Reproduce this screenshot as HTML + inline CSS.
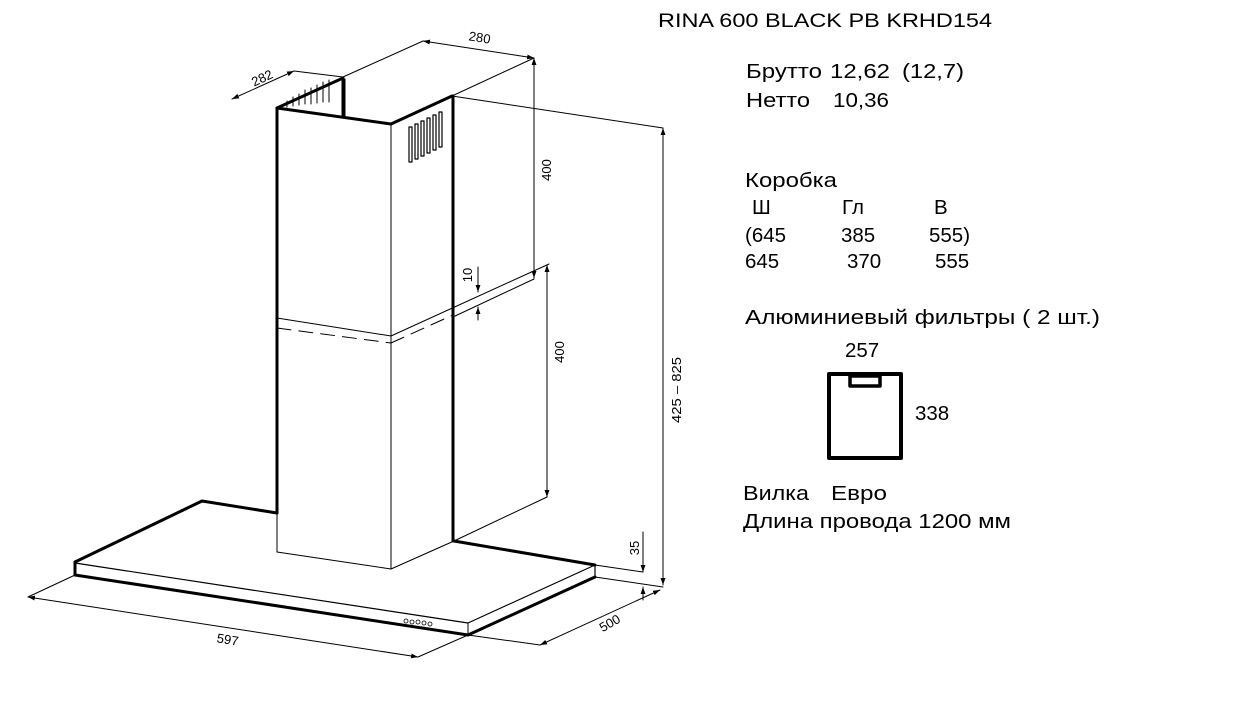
<!DOCTYPE html>
<html><head><meta charset="utf-8"><style>
html,body{margin:0;padding:0;background:#fff;}
svg{display:block;}
text{font-family:"Liberation Sans",Arial,sans-serif;fill:#000;}
.t{font-size:20.5px;}
.d{font-size:13px;}
</style></head><body>
<svg width="1257" height="706" viewBox="0 0 1257 706" xmlns="http://www.w3.org/2000/svg">
<defs>
<marker id="a" viewBox="0 0 10 10" refX="10" refY="5" markerWidth="7" markerHeight="7" orient="auto-start-reverse"><path d="M0,1.5 L10,5 L0,8.5 Z" fill="#000"/></marker>
</defs>
<g stroke="#000" fill="none" stroke-linecap="round" stroke-linejoin="round">
<path d="M277,108 L343,78 L343,117" stroke-width="3"/>
<path d="M277,108 L391,124 L452,96" stroke-width="3"/>
<line x1="345" y1="79" x2="345" y2="117" stroke-width="1"/>
<g stroke-width="1">
<path d="M287,107 v-6 M293,106 v-9 M299,105 v-11 M305,104 v-14 M311,104 v-16 M317,103 v-18 M323,102 v-20 M329,102 v-22"/>
</g>
<g stroke-width="1.2">
<rect x="409" y="127" width="3" height="35"/><rect x="415" y="124" width="3" height="35"/><rect x="421" y="121" width="3" height="35"/><rect x="427" y="118" width="3" height="35"/><rect x="433" y="115" width="3" height="35"/><rect x="439" y="112" width="3" height="35"/>
</g>
<line x1="277" y1="108" x2="277" y2="513" stroke-width="3"/>
<line x1="277" y1="513" x2="277" y2="552" stroke-width="1"/>
<line x1="391" y1="124" x2="391" y2="569" stroke-width="1"/>
<line x1="453" y1="96" x2="453" y2="541" stroke-width="3"/>
<path d="M277,552 L391,569 L454,541" stroke-width="1"/>
<line x1="277" y1="318" x2="391" y2="336" stroke-width="1"/>
<line x1="277" y1="328" x2="391" y2="343" stroke-width="1" stroke-dasharray="14,8"/>
<line x1="391" y1="343" x2="453" y2="315" stroke-width="1" stroke-dasharray="14,8"/>
<line x1="391" y1="336" x2="549" y2="264" stroke-width="1"/>
<line x1="453" y1="317" x2="534" y2="279" stroke-width="1"/>
<path d="M277,513 L202,501 L75,562" stroke-width="3"/>
<path d="M454,541 L595,565" stroke-width="3"/>
<path d="M75,563 L468,623 L595,565 L595,577" stroke-width="1.2"/>
<line x1="75" y1="562" x2="75" y2="575" stroke-width="3"/>
<path d="M75,575 L468,635 L595,577" stroke-width="3"/>
<line x1="468" y1="623" x2="468" y2="635" stroke-width="1"/>
<g stroke-width="0.8"><circle cx="406" cy="621" r="2"/><circle cx="412" cy="622" r="2"/><circle cx="418" cy="622" r="2"/><circle cx="424" cy="623" r="2"/><circle cx="430" cy="624" r="2"/></g>
<g stroke-width="1">
<line x1="294" y1="71" x2="343" y2="77"/>
<line x1="232" y1="99" x2="294" y2="71" marker-start="url(#a)" marker-end="url(#a)"/>
<line x1="423" y1="41" x2="343" y2="77"/>
<line x1="534" y1="58" x2="452" y2="96"/>
<line x1="423" y1="41" x2="534" y2="58" marker-start="url(#a)" marker-end="url(#a)"/>
<line x1="534" y1="58" x2="534" y2="278" marker-start="url(#a)" marker-end="url(#a)"/>
<line x1="452" y1="96" x2="663" y2="128"/>
<line x1="663" y1="128" x2="663" y2="585" marker-start="url(#a)" marker-end="url(#a)"/>
<line x1="478" y1="267" x2="478" y2="292" marker-end="url(#a)"/>
<line x1="478" y1="320" x2="478" y2="307" marker-end="url(#a)"/>
<line x1="547" y1="265" x2="547" y2="497" marker-start="url(#a)" marker-end="url(#a)"/>
<line x1="547" y1="497" x2="454" y2="541"/>
<line x1="643" y1="532" x2="643" y2="572" marker-end="url(#a)"/>
<line x1="643" y1="600" x2="643" y2="587" marker-end="url(#a)"/>
<line x1="595" y1="565" x2="643" y2="572"/>
<line x1="595" y1="577" x2="663" y2="587"/>
<line x1="468" y1="635" x2="540" y2="645"/>
<line x1="660" y1="590" x2="540" y2="645" marker-start="url(#a)" marker-end="url(#a)"/>
<line x1="75" y1="575" x2="28" y2="597"/>
<line x1="468" y1="635" x2="418" y2="657"/>
<line x1="28" y1="597" x2="418" y2="657" marker-start="url(#a)" marker-end="url(#a)"/>
</g>
<rect x="829" y="374" width="72" height="84" stroke-width="4"/>
<rect x="850" y="376" width="30" height="10" stroke-width="3.5"/>
</g>
<text class="d" transform="translate(479,42) rotate(9)" text-anchor="middle">280</text>
<text class="d" transform="translate(264,82) rotate(-25)" text-anchor="middle">282</text>
<text class="d" transform="translate(551,170) rotate(-90)" text-anchor="middle">400</text>
<text class="d" transform="translate(472,275) rotate(-90)" text-anchor="middle">10</text>
<text class="d" transform="translate(564,352) rotate(-90)" text-anchor="middle">400</text>
<text class="d" transform="translate(681,390) rotate(-90)" text-anchor="middle" textLength="66" lengthAdjust="spacingAndGlyphs">425 – 825</text>
<text class="d" transform="translate(639,548) rotate(-90)" text-anchor="middle">35</text>
<text class="d" transform="translate(612,627) rotate(-30)" text-anchor="middle">500</text>
<text class="d" transform="translate(227,644) rotate(9)" text-anchor="middle">597</text>
<text x="658" y="27" style="font-size:19.5px" textLength="334" lengthAdjust="spacingAndGlyphs">RINA 600 BLACK PB KRHD154</text>
<text class="t" x="746" y="78" textLength="76" lengthAdjust="spacingAndGlyphs">Брутто</text><text class="t" x="830" y="78" textLength="60" lengthAdjust="spacingAndGlyphs">12,62</text><text class="t" x="902" y="78" textLength="62" lengthAdjust="spacingAndGlyphs">(12,7)</text>
<text class="t" x="746" y="107" textLength="64" lengthAdjust="spacingAndGlyphs">Нетто</text><text class="t" x="833" y="107" textLength="56" lengthAdjust="spacingAndGlyphs">10,36</text>
<text class="t" x="745" y="187" textLength="92" lengthAdjust="spacingAndGlyphs">Коробка</text>
<text class="t" x="752" y="214">Ш</text><text class="t" x="842" y="214">Гл</text><text class="t" x="934" y="214">В</text>
<text class="t" x="745" y="242">(645</text><text class="t" x="841" y="242">385</text><text class="t" x="929" y="242">555)</text>
<text class="t" x="745" y="268">645</text><text class="t" x="847" y="268">370</text><text class="t" x="935" y="268">555</text>
<text class="t" x="745" y="324" textLength="355" lengthAdjust="spacingAndGlyphs">Алюминиевый фильтры ( 2 шт.)</text>
<text class="t" x="845" y="357">257</text>
<text class="t" x="915" y="420">338</text>
<text class="t" x="743" y="500" textLength="66" lengthAdjust="spacingAndGlyphs">Вилка</text><text class="t" x="831" y="500" textLength="56" lengthAdjust="spacingAndGlyphs">Евро</text>
<text class="t" x="743" y="528" textLength="268" lengthAdjust="spacingAndGlyphs">Длина провода 1200 мм</text>
</svg>
</body></html>
